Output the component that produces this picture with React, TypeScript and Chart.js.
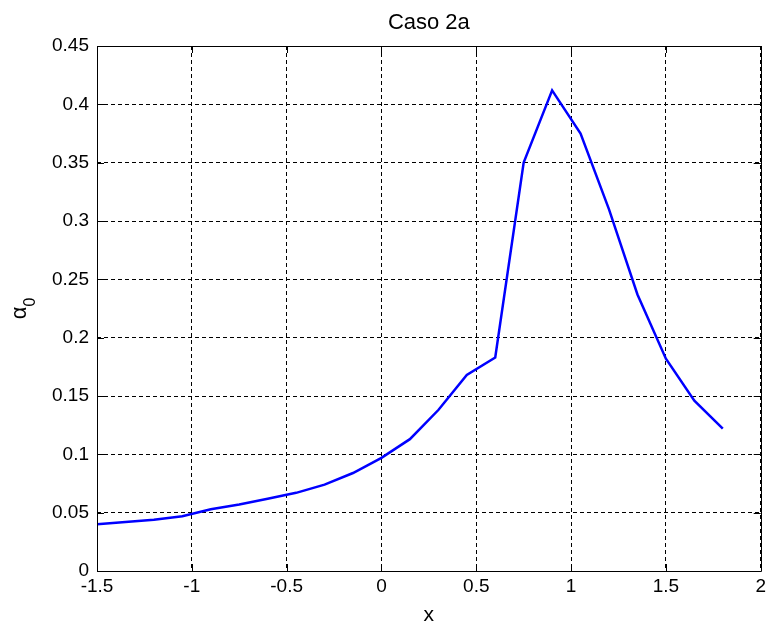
import React, { useEffect, useRef } from "react";
import { Chart, registerables } from "chart.js";

Chart.register(...registerables);

const xValues = [-1.5, -1.35, -1.2, -1.05, -0.9, -0.75, -0.6, -0.45, -0.3, -0.15, 0, 0.15, 0.3, 0.45, 0.6, 0.75, 0.9, 1.05, 1.2, 1.35, 1.5, 1.65, 1.8];
const alphaValues = [0.04, 0.042, 0.044, 0.047, 0.053, 0.057, 0.062, 0.067, 0.074, 0.084, 0.097, 0.113, 0.138, 0.168, 0.183, 0.35, 0.412, 0.375, 0.31, 0.237, 0.182, 0.146, 0.122];
const xTickLabels = ["-1.5", "-1", "-0.5", "0", "0.5", "1", "1.5", "2"];
const yTickLabels = ["0", "0.05", "0.1", "0.15", "0.2", "0.25", "0.3", "0.35", "0.4", "0.45"];
const titleText = "Caso 2a";
const xLabel = "x";
const yLabelMain = "α";
const yLabelSub = "0";

const FONT = "'Liberation Sans', Arial, sans-serif";

const framePlugin = {
  id: "matlabFrame",
  afterDraw(chart: any) {
    const { ctx, chartArea } = chart;
    const { left, right, top, bottom } = chartArea;
    const xs = chart.scales.x;
    const ys = chart.scales.y;
    ctx.save();
    ctx.strokeStyle = "#000";
    ctx.lineWidth = 1;
    ctx.setLineDash([]);
    ctx.beginPath();
    ctx.rect(Math.round(left) + 0.5, Math.round(top) + 0.5, Math.round(right - left), Math.round(bottom - top));
    ctx.stroke();
    const tl = 7;
    ctx.beginPath();
    xs.ticks.forEach((t: any) => {
      const px = Math.round(xs.getPixelForValue(t.value)) + 0.5;
      ctx.moveTo(px, bottom);
      ctx.lineTo(px, bottom - tl);
      ctx.moveTo(px, top);
      ctx.lineTo(px, top + tl);
    });
    ys.ticks.forEach((t: any) => {
      const py = Math.round(ys.getPixelForValue(t.value)) + 0.5;
      ctx.moveTo(left, py);
      ctx.lineTo(left + tl, py);
      ctx.moveTo(right, py);
      ctx.lineTo(right - tl, py);
    });
    ctx.stroke();

    // title
    ctx.fillStyle = "#000";
    ctx.font = `22px ${FONT}`;
    ctx.textAlign = "center";
    ctx.textBaseline = "middle";
    ctx.fillText(titleText, (left + right) / 2, 23);

    // y label with subscript
    ctx.save();
    ctx.translate(22, (top + bottom) / 2);
    ctx.rotate(-Math.PI / 2);
    ctx.textAlign = "left";
    ctx.textBaseline = "alphabetic";
    ctx.font = `22px ${FONT}`;
    const w = ctx.measureText(yLabelMain).width;
    ctx.font = `16px ${FONT}`;
    const w2 = ctx.measureText(yLabelSub).width;
    const total = w + w2;
    ctx.font = `22px ${FONT}`;
    ctx.fillText(yLabelMain, -total / 2, 4);
    ctx.font = `16px ${FONT}`;
    ctx.fillText(yLabelSub, -total / 2 + w, 13);
    ctx.restore();
    ctx.restore();
  },
};

export default function App() {
  const ref = useRef<HTMLCanvasElement | null>(null);
  useEffect(() => {
    if (!ref.current) return;
    const chart = new Chart(ref.current, {
      type: "line",
      data: {
        datasets: [
          {
            data: xValues.map((x, i) => ({ x, y: alphaValues[i] })),
            borderColor: "#0000ff",
            borderWidth: 2.5,
            pointRadius: 0,
            tension: 0,
            fill: false,
          },
        ],
      },
      options: {
        animation: false,
        responsive: false,
        devicePixelRatio: 1,
        layout: { padding: { top: 46, right: 8, left: 0, bottom: 0 } },
        plugins: { legend: { display: false }, title: { display: false }, tooltip: { enabled: false } },
        scales: {
          x: {
            type: "linear",
            min: -1.5,
            max: 2,
            ticks: {
              stepSize: 0.5,
              color: "#000",
              font: { family: FONT, size: 19 },
              padding: 4,
              maxRotation: 0,
              autoSkip: false,
              callback: (v: any) => {
                const i = Math.round((Number(v) + 1.5) / 0.5);
                return xTickLabels[i] ?? "";
              },
            },
            grid: { color: "#000", lineWidth: 1, drawTicks: false } as any,
            border: { display: false, dash: [4, 3] },
            title: { display: true, text: xLabel, color: "#000", font: { family: FONT, size: 21 }, padding: { top: 0, bottom: 2 } },
            afterFit: (s: any) => { s.height = 59; },
          },
          y: {
            type: "linear",
            min: 0,
            max: 0.45,
            ticks: {
              stepSize: 0.05,
              color: "#000",
              font: { family: FONT, size: 19 },
              padding: 8,
              autoSkip: false,
              callback: (v: any) => {
                const i = Math.round(Number(v) / 0.05);
                return yTickLabels[i] ?? "";
              },
            },
            grid: { color: "#000", lineWidth: 1, drawTicks: false } as any,
            border: { display: false, dash: [4, 3] },
            afterFit: (s: any) => { s.width = 97; },
          },
        },
      },
      plugins: [framePlugin],
    } as any);
    return () => chart.destroy();
  }, []);
  return (
    <div style={{ position: "fixed", left: 0, top: 0, width: 770, height: 630, background: "#fff" }}>
      <canvas ref={ref} width={770} height={630} style={{ width: 770, height: 630, display: "block" }} />
    </div>
  );
}
